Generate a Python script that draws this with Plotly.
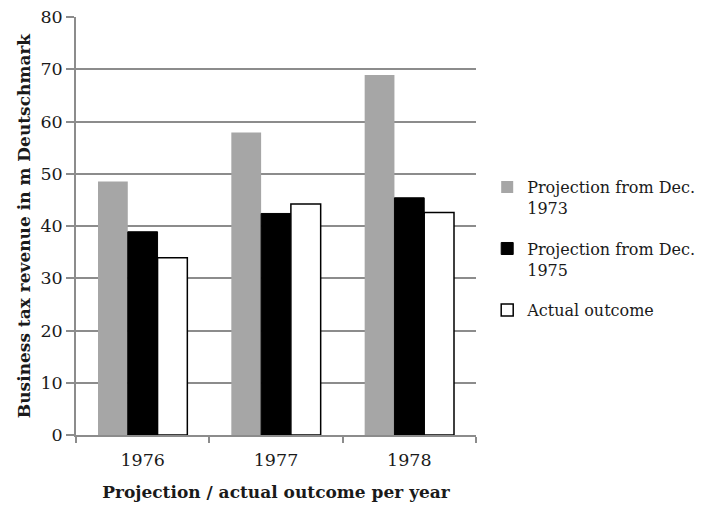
import plotly.graph_objects as go

# Business tax revenue, projections vs. actual outcome (m Deutschmark)
years = ["1976", "1977", "1978"]
proj_1973 = [48.5, 57.9, 68.9]
proj_1975 = [38.9, 42.4, 45.4]
actual = [33.9, 44.2, 42.6]

series_names = ["Projection from Dec.<br>1973", "Projection from Dec.<br>1975", "Actual outcome"]

FONT = "DejaVu Serif"
TXT = "#1a1a1a"

fig = go.Figure()
fig.add_trace(go.Bar(x=years, y=proj_1973, name=series_names[0], legendgroup="a",
                     marker=dict(color="#a6a6a6", line=dict(width=0))))
fig.add_trace(go.Bar(x=years, y=proj_1975, name=series_names[1], legendgroup="b",
                     marker=dict(color="#000000", line=dict(color="#000000", width=1))))
fig.add_trace(go.Bar(x=years, y=actual, name=series_names[2], legendgroup="c",
                     marker=dict(color="#ffffff", line=dict(color="#000000", width=1.5))))

fig.update_layout(
    width=712, height=505,
    margin=dict(l=76, r=234, t=17, b=70),
    paper_bgcolor="white", plot_bgcolor="white",
    barmode="group", bargap=0.33, bargroupgap=0,
    font=dict(family=FONT, size=17, color=TXT),
    showlegend=True,
    legend=dict(x=1.028, xanchor="left", y=0.634, yanchor="top", valign="top",
                font=dict(family=FONT, size=16, color=TXT),
                tracegroupgap=17, itemwidth=30, borderwidth=0,
                bgcolor="rgba(0,0,0,0)"),
    xaxis=dict(
        type="category", tickson="boundaries", automargin=False,
        ticks="outside", ticklen=6, tickcolor="#8c8c8c", tickwidth=1.5,
        showline=True, linecolor="#8c8c8c", linewidth=1.5,
        showgrid=False, ticklabelstandoff=8,
        tickfont=dict(family=FONT, size=17.5, color=TXT),
        title=dict(text="<b>Projection / actual outcome per year</b>",
                   font=dict(family=FONT, size=17, color=TXT), standoff=17),
    ),
    yaxis=dict(
        range=[0, 80], dtick=10, automargin=False,
        ticks="outside", ticklen=8, tickcolor="#8c8c8c", tickwidth=1.5,
        showline=True, linecolor="#8c8c8c", linewidth=1.5,
        showgrid=True, gridcolor="#8c8c8c", gridwidth=1.5,
        zeroline=False,
        tickfont=dict(family=FONT, size=17.5, color=TXT),
        title=dict(text="<b>Business tax revenue in m Deutschmark</b>",
                   font=dict(family=FONT, size=17, color=TXT), standoff=6),
    ),
)

fig.write_html("out.html")
